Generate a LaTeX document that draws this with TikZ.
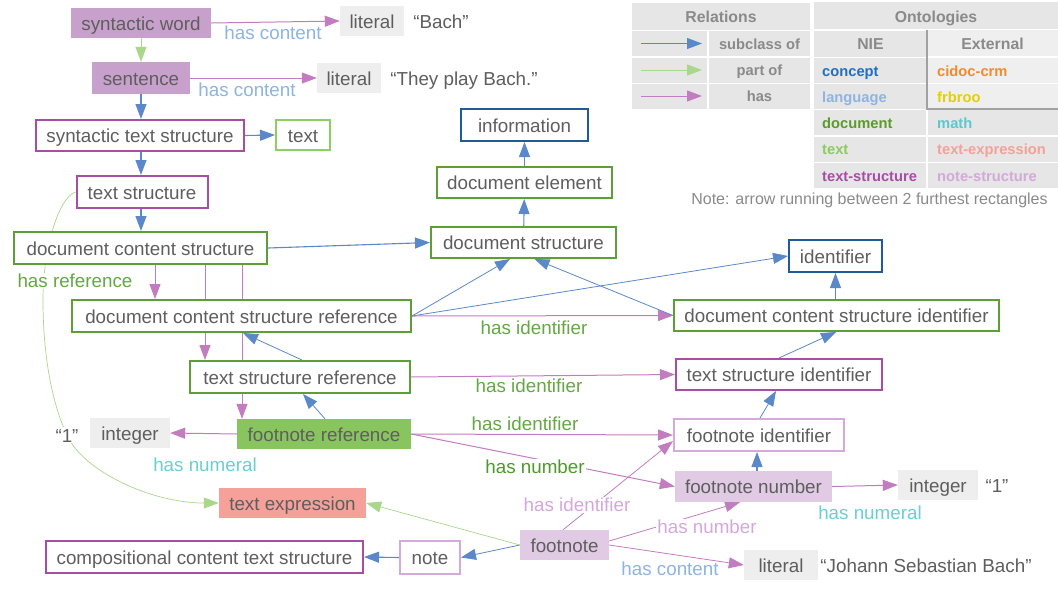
\documentclass[tikz,border=0pt]{standalone}
\usepackage{fontspec}
\setmainfont{Liberation Sans}
\usetikzlibrary{arrows.meta}
\pgfdeclarelayer{bg}
\pgfsetlayers{bg,main}
\definecolor{txt}{HTML}{5E5E5E}
\definecolor{subc}{HTML}{5B88C9}
\definecolor{partc}{HTML}{A9D78B}
\definecolor{hasc}{HTML}{C17DC0}
\definecolor{tsb}{HTML}{A64DA6}
\definecolor{nsb}{HTML}{D3AAD9}
\definecolor{nsf}{HTML}{E1CAE4}
\definecolor{synf}{HTML}{C8A0CC}
\definecolor{docb}{HTML}{5E9E37}
\definecolor{txtb}{HTML}{8DCD62}
\definecolor{conb}{HTML}{1F5B98}
\definecolor{litf}{HTML}{EEEEEE}
\definecolor{fnreff}{HTML}{89C55F}
\definecolor{texpf}{HTML}{F5A098}
\definecolor{lblue}{HTML}{8DB4E2}
\definecolor{lgreen}{HTML}{64A844}
\definecolor{dgreen}{HTML}{4C9A2A}
\definecolor{lteal}{HTML}{6ACFD4}
\definecolor{lpurp}{HTML}{D5A8DC}
\definecolor{cellf}{HTML}{E6E6E6}
\definecolor{cellg}{HTML}{EFEFEF}
\definecolor{legt}{HTML}{8A8A8A}
\definecolor{oconcept}{HTML}{1F6FC4}
\definecolor{olang}{HTML}{8DB4E2}
\definecolor{odoc}{HTML}{5B9A2B}
\definecolor{otext}{HTML}{8CCB5E}
\definecolor{ots}{HTML}{A64DA6}
\definecolor{ocidoc}{HTML}{F58A2A}
\definecolor{ofrbroo}{HTML}{E6CF00}
\definecolor{omath}{HTML}{5CC8CB}
\definecolor{otexp}{HTML}{F5A098}
\definecolor{ons}{HTML}{D4A8DA}
\newcommand\mynodefont{\fontsize{18.8}{22}\selectfont}
\newcommand\mylegfont{\fontsize{14.7}{17}\selectfont\bfseries}
\newcommand\myheadfont{\fontsize{15.8}{18}\selectfont\bfseries}
\tikzset{
  sz/.style 2 args={minimum width=#1pt, minimum height=#2pt},
  tb/.style={text height=14pt, text depth=0pt},
  box/.style={font=\mynodefont, text=txt, inner sep=0pt, tb, line width=2pt, fill=white, draw=#1},
  fbox/.style={font=\mynodefont, text=txt, inner sep=0pt, tb, fill=#1},
  plain/.style={font=\mynodefont, text=txt, inner sep=1pt, tb},
  lab/.style={font=\mynodefont, text=#1, inner sep=1pt},
  wlab/.style={font=\mynodefont, text=#1, inner sep=1pt, fill=white},
  tip/.style={-{Triangle[length=15pt,width=11pt]}},
  sub/.style={draw=subc, line width=1.1pt, tip},
  part/.style={draw=partc, line width=1pt, tip},
  has/.style={draw=hasc, line width=1pt, tip},
  cell/.style={fill=cellf, draw=none},
  legtxt/.style={font=\mylegfont, text=legt, inner sep=0pt, text height=11pt, text depth=0pt},
  ontxt/.style={font=\mylegfont, text=#1, inner sep=0pt, anchor=west, text height=11pt, text depth=0pt},
}
\begin{document}
\begin{tikzpicture}[x=1pt,y=-1pt]
\useasboundingbox (0,0) rectangle (1058,595);
% ---------- nodes ----------
\node[fbox=synf, sz={140}{30}] (sw) at (141,23) {syntactic word};
\node[fbox=litf, sz={64}{30}] (lit1) at (372,21) {literal};
\node[plain] (bach) at (441,21) {“Bach”};
\node[fbox=synf, sz={98}{32}] (sent) at (141,78) {sentence};
\node[fbox=litf, sz={64}{30}] (lit2) at (349,78) {literal};
\node[plain] (they) at (464,78) {“They play Bach.”};
\node[box=tsb, sz={208}{31}] (sts) at (140,135.5) {syntactic text structure};
\node[box=txtb, sz={54}{30}] (text) at (303,135) {text};
\node[box=tsb, sz={131}{32}] (ts) at (142,192) {text structure};
\node[box=docb, sz={253}{32}] (dcs) at (140.5,248) {document content structure};
\node[box=docb, sz={185}{31}] (ds) at (523.5,242.5) {document structure};
\node[box=docb, sz={175}{31}] (de) at (524.5,182.5) {document element};
\node[box=conb, sz={127}{32}] (info) at (524.5,125) {information};
\node[box=docb, sz={339}{32}] (dcsr) at (241.5,316) {document content structure reference};
\node[box=docb, sz={220}{32}] (tsr) at (300,377) {text structure reference};
\node[fbox=fnreff, sz={174}{30}] (fnref) at (324,434) {footnote reference};
\node[fbox=litf, sz={80}{30}] (int1) at (130,433) {integer};
\node[plain, fill=white] (one1) at (67,435) {“1”};
\node[fbox=texpf, sz={147}{30}] (texp) at (292.5,503) {text expression};
\node[box=tsb, sz={317}{32}] (cct) at (204.5,557) {compositional content text structure};
\node[box=nsb, sz={60}{33}] (note) at (430,557.5) {note};
\node[fbox=nsf, sz={89}{30}] (fn) at (564.5,545) {footnote};
\node[fbox=litf, sz={74}{30}] (lit3) at (781,565) {literal};
\node[plain] (jsb) at (926,565) {“Johann Sebastian Bach”};
\node[fbox=nsf, sz={157}{31}] (fnnum) at (753.5,486.5) {footnote number};
\node[fbox=litf, sz={80}{30}] (int2) at (938,485) {integer};
\node[plain] (one2) at (997,485) {“1”};
\node[box=nsb, sz={170}{32}] (fnid) at (759,435) {footnote identifier};
\node[box=tsb, sz={206}{31}] (tsi) at (779,374.5) {text structure identifier};
\node[box=docb, sz={325}{31}] (dcsi) at (836.5,315.5) {document content structure identifier};
\node[box=conb, sz={93}{32}] (ident) at (835.5,256) {identifier};
% ---------- edge labels ----------
\node[lab=lblue] (l1) at (273,33) {has content};
\node[lab=lblue] (l2) at (247,90) {has content};
\node[wlab=lgreen] (l3) at (75,281) {has reference};
\node[lab=lgreen] (l4) at (534,328) {has identifier};
\node[lab=lgreen] (l5) at (529,386) {has identifier};
\node[lab=lgreen] (l6) at (525,424) {has identifier};
\node[wlab=dgreen] (l7) at (535,467) {has number};
\node[lab=lteal] (l8) at (205,465) {has numeral};
\node[lab=lteal] (l9) at (870,513) {has numeral};
\node[wlab=lpurp] (l10) at (577,505) {has identifier};
\node[wlab=lpurp] (l11) at (707,527) {has number};
\node[lab=lblue] (l12) at (670,569) {has content};
% ---------- legend: relations ----------
\node[cell, minimum width=178pt, minimum height=27pt, inner sep=0pt] (rh) at (721,16.5) {};
\node[legtxt, font=\myheadfont] (rht) at (721,17) {Relations};
\node[cell, minimum width=75pt, minimum height=25pt, inner sep=0pt] (r1a) at (669.5,43.5) {};
\node[cell, minimum width=101pt, minimum height=25pt, inner sep=0pt] (r1b) at (759.5,43.5) {};
\node[cell, minimum width=75pt, minimum height=25pt, inner sep=0pt] (r2a) at (669.5,70) {};
\node[cell, minimum width=101pt, minimum height=25pt, inner sep=0pt] (r2b) at (759.5,70) {};
\node[cell, minimum width=75pt, minimum height=25pt, inner sep=0pt] (r3a) at (669.5,96) {};
\node[cell, minimum width=101pt, minimum height=25pt, inner sep=0pt] (r3b) at (759.5,96) {};
\node[legtxt] (r1t) at (759.5,43.5) {subclass of};
\node[legtxt] (r2t) at (759.5,70) {part of};
\node[legtxt] (r3t) at (759.5,96) {has};
\coordinate (a1s) at (641,43.5); \coordinate (a1e) at (702,43.5);
\coordinate (a2s) at (641,70); \coordinate (a2e) at (702,70);
\coordinate (a3s) at (641,96); \coordinate (a3e) at (702,96);
\draw[sub, line width=1pt] (a1s) -- (a1e);
\draw[part] (a2s) -- (a2e);
\draw[has] (a3s) -- (a3e);
% ---------- legend: ontologies ----------
\node[cell, minimum width=244pt, minimum height=27pt, inner sep=0pt] (oh) at (936,15.5) {};
\node[legtxt, font=\myheadfont] (oht) at (936,16.5) {Ontologies};
\node[cell, minimum width=113pt, minimum height=26pt, inner sep=0pt] (nie) at (870.5,43.5) {};
\node[legtxt, font=\myheadfont] (niet) at (870.5,44) {NIE};
\fill[cellg] (927,30) rectangle (1058,109);
\draw[white, line width=1.5pt] (927,57) -- (1058,57);
\draw[white, line width=1.5pt] (927,83.5) -- (1058,83.5);
\draw[color=legt!80, line width=1.2pt] (927,30) -- (927,109) -- (1058,109);
\node[legtxt, font=\myheadfont] (extt) at (992.5,44) {External};
\foreach \yy/\nm in {70.5/o1,96.5/o2,122.5/o3,149/o4,175.5/o5}{
  \node[cell, minimum width=112pt, minimum height=25pt, inner sep=0pt] (\nm a) at (870,\yy) {};
}
\foreach \yy/\nm in {122.5/o3,149/o4,175.5/o5}{
  \node[cell, minimum width=130pt, minimum height=25pt, inner sep=0pt] (\nm b) at (993,\yy) {};
}
\node[ontxt=oconcept] (c1) at (822,70.5) {concept};
\node[ontxt=olang] (c2) at (822,96.5) {language};
\node[ontxt=odoc] (c3) at (822,122.5) {document};
\node[ontxt=otext] (c4) at (822,149) {text};
\node[ontxt=ots] (c5) at (822,175.5) {text-structure};
\node[ontxt=ocidoc] (e1) at (937,70.5) {cidoc-crm};
\node[ontxt=ofrbroo] (e2) at (937,96.5) {frbroo};
\node[ontxt=omath] (e3) at (937,122.5) {math};
\node[ontxt=otexp] (e4) at (937,149) {text-expression};
\node[ontxt=ons] (e5) at (937,175.5) {note-structure};
\node[font=\fontsize{16}{19}\selectfont, text=legt, inner sep=0pt] (notet) at (869.5,200) {Note: arrow running between 2 furthest rectangles};
% ---------- edges ----------
\begin{pgfonlayer}{bg}
\fill[white] (0,0) rectangle (1058,595);
\draw[part] (sw) -- (sent);
\draw[has] (sw.east) -- (lit1.west);
\draw[has] (sent.east) -- (lit2.west);
\draw[sub] (sent.south) -- (sent.south |- sts.north);
\draw[sub] (sts.east) -- (text.west);
\draw[sub] ([xshift=1pt]sts.south) -- ([xshift=1pt]sts.south |- ts.north);
\draw[sub] ([xshift=-1pt]ts.south) -- ([xshift=-1pt]ts.south |- dcs.north);
\draw[sub] (dcs.east) -- (ds.west);
\draw[sub] (ds) -- (de);
\draw[sub] (de) -- (info);
\draw[has] ([xshift=14.5pt]dcs.south) -- ([xshift=14.5pt]dcs.south |- dcsr.north);
\draw[has] ([xshift=64.5pt]dcs.south) -- ([xshift=64.5pt]dcs.south |- tsr.north);
\draw[has] ([xshift=101.5pt]dcs.south) -- ([xshift=101.5pt]dcs.south |- fnref.north);
\draw[sub, line width=0.8pt] (dcsr.east) -- ([xshift=-13.5pt]ds.south);
\draw[sub, line width=0.8pt] (dcsr.east) -- (ident.west);
\draw[has] (dcsr.east) -- (dcsi.west);
\draw[sub, line width=0.8pt] (dcsi.west) -- ([xshift=11pt]ds.south);
\draw[sub] (dcsi.north -| ident.south) -- (ident.south);
\draw[sub, line width=0.8pt] ([xshift=2pt]tsr.north) -- ([xshift=1.5pt]dcsr.south);
\draw[has] (tsr.east) -- (tsi.west);
\draw[sub, line width=0.8pt] (tsi.north) -- ([xshift=-0.5pt]dcsi.south);
\draw[sub, line width=0.8pt] ([xshift=1pt]fnref.north) -- ([xshift=3pt]tsr.south);
\draw[has] (fnref.west) -- (int1.east);
\draw[has] (fnref.east) -- (fnid.west);
\draw[has] (fnref.east) -- (fnnum.west);
\draw[sub, line width=0.8pt] ([xshift=1pt]fnid.north) -- ([xshift=-3pt]tsi.south);
\draw[sub] ([xshift=3.5pt]fnnum.north) -- ([xshift=3.5pt]fnnum.north |- fnid.south);
\draw[has] (fnnum.east) -- (int2.west);
\draw[has, line width=0.8pt] ([xshift=-1.5pt]fn.north) -- ([yshift=-6pt]fnid.west);
\draw[has, line width=0.8pt] ([yshift=4pt]fn.east) -- ([xshift=-13.5pt]fnnum.south);
\draw[has, line width=0.8pt] (fn.east) -- (lit3.west);
\draw[sub, line width=0.8pt] (fn.west) -- (note.east);
\draw[sub] (note.west) -- (cct.east);
\draw[part, line width=0.7pt] (fn.west) -- (texp.east);
\draw[part, line width=0.7pt] (ts.west) .. controls (58,198) and (43,250) .. (43,300)
   .. controls (43,365) and (55,410) .. (67,435)
   .. controls (82,470) and (150,503) .. (texp.west);
\end{pgfonlayer}
\end{tikzpicture}
\end{document}
